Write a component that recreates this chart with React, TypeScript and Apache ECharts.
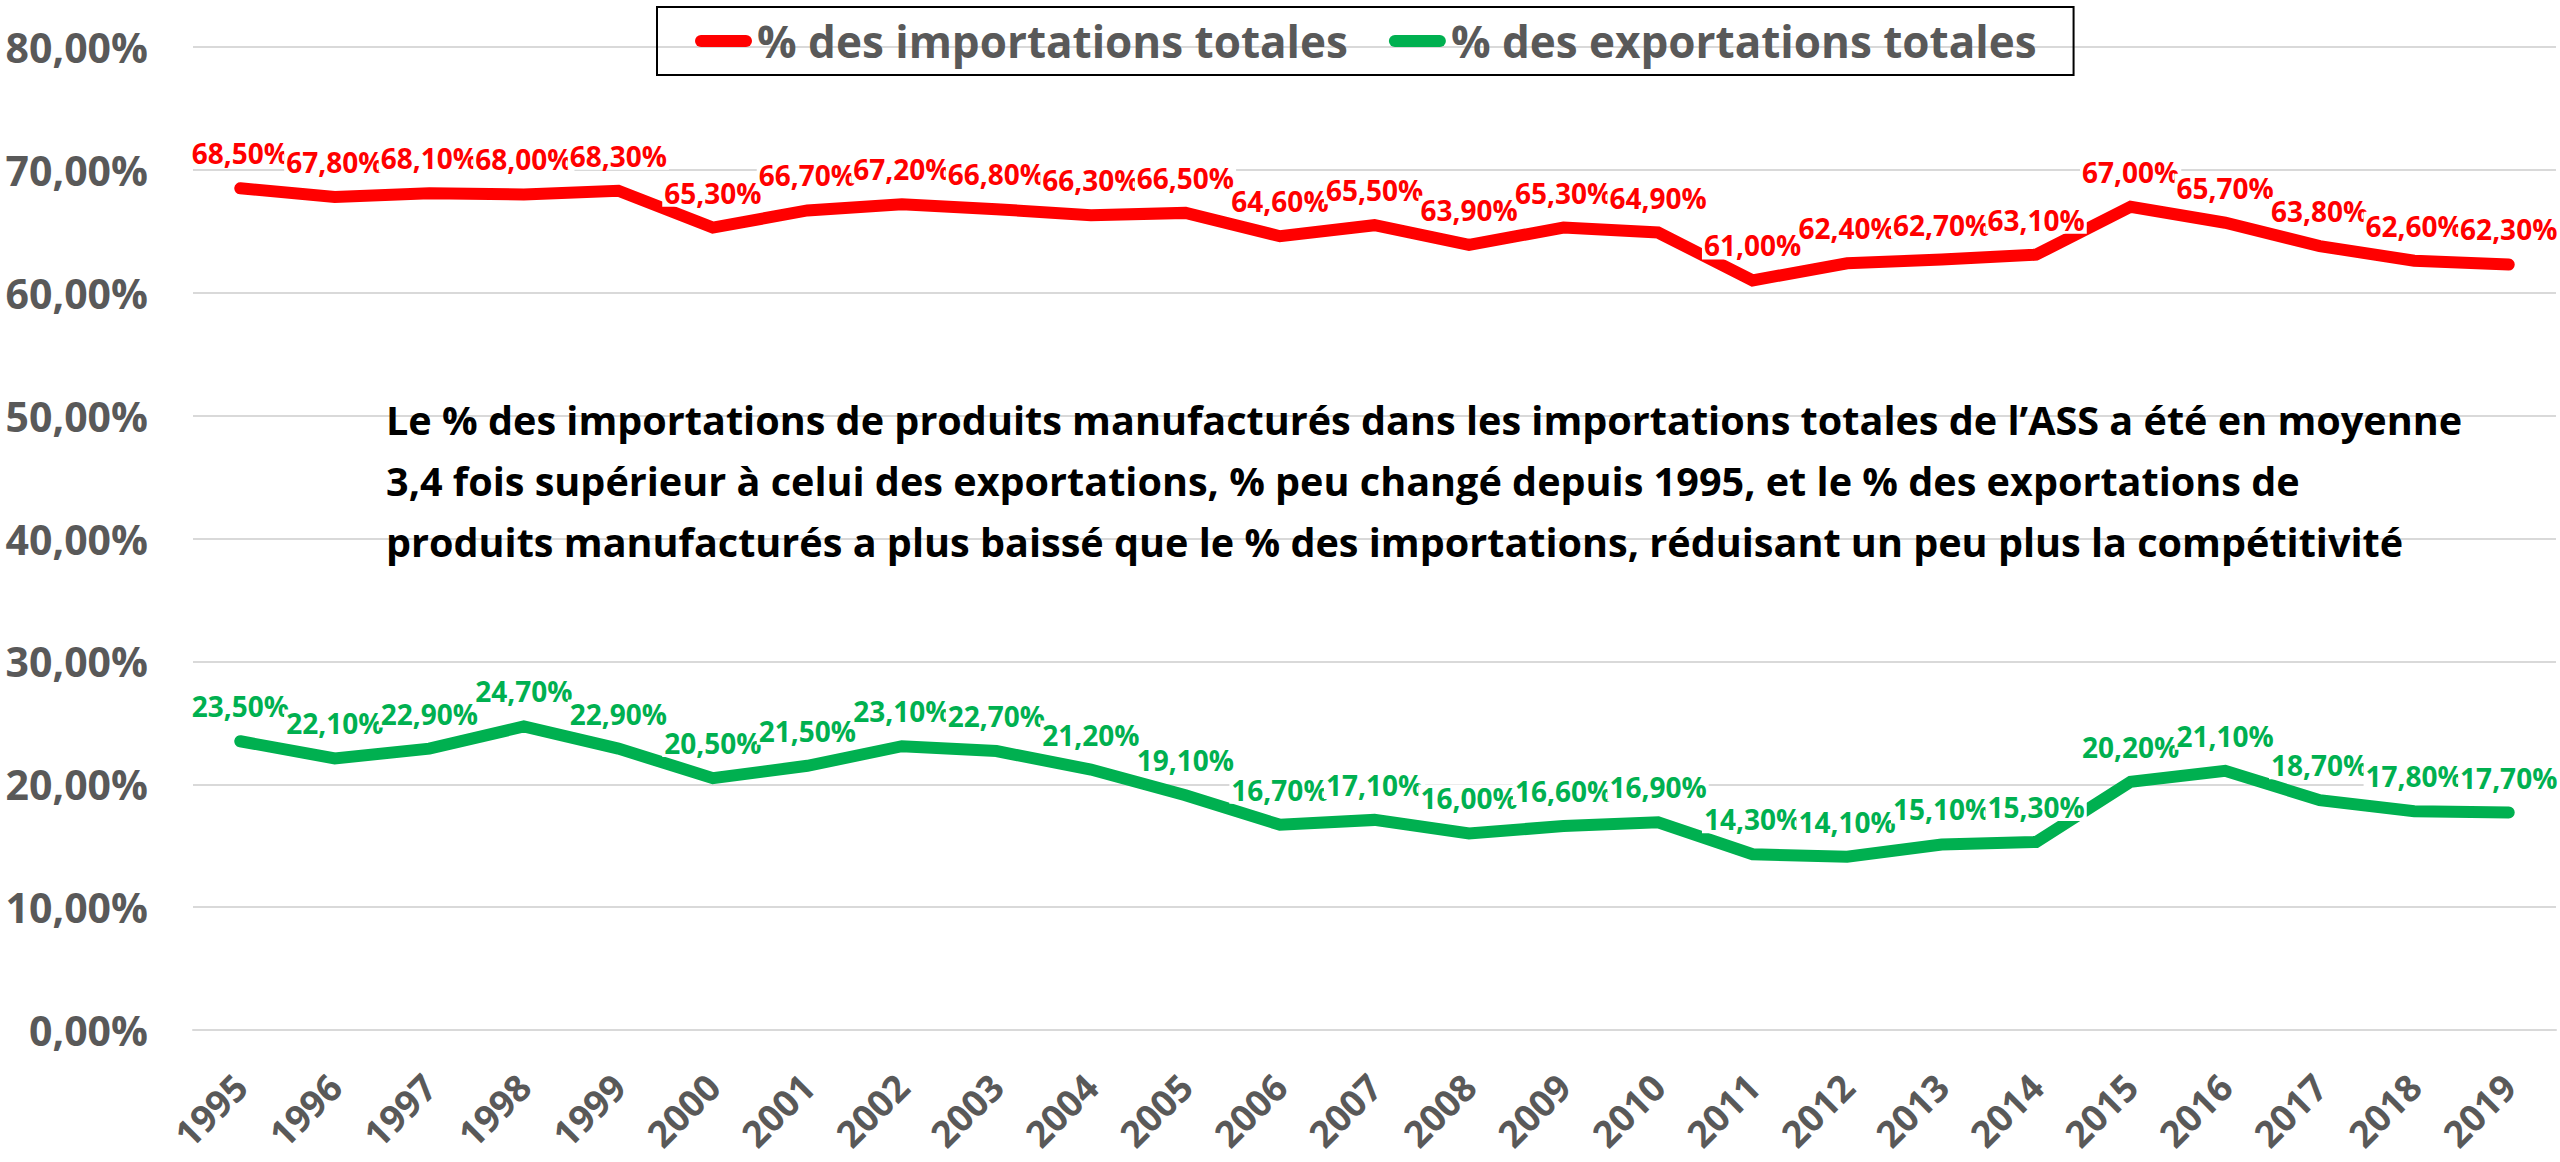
import React, { useEffect, useRef } from 'react';
import * as echarts from 'echarts';

const years = ['1995', '1996', '1997', '1998', '1999', '2000', '2001', '2002', '2003', '2004', '2005', '2006', '2007', '2008', '2009', '2010', '2011', '2012', '2013', '2014', '2015', '2016', '2017', '2018', '2019'];
const importsPct = [68.5, 67.8, 68.1, 68.0, 68.3, 65.3, 66.7, 67.2, 66.8, 66.3, 66.5, 64.6, 65.5, 63.9, 65.3, 64.9, 61.0, 62.4, 62.7, 63.1, 67.0, 65.7, 63.8, 62.6, 62.3];
const exportsPct = [23.5, 22.1, 22.9, 24.7, 22.9, 20.5, 21.5, 23.1, 22.7, 21.2, 19.1, 16.7, 17.1, 16.0, 16.6, 16.9, 14.3, 14.1, 15.1, 15.3, 20.2, 21.1, 18.7, 17.8, 17.7];
const seriesNames = ['% des importations totales', '% des exportations totales'];
const seriesColors = ['#FF0000', '#00B050'];
const yMin = 0;
const yMax = 80;
const yStep = 10;
const annotationLines = [
  'Le % des importations de produits manufacturés dans les importations totales de l’ASS a été en moyenne',
  '3,4 fois supérieur à celui des exportations, % peu changé depuis 1995, et le % des exportations de',
  'produits manufacturés a plus baissé que le % des importations, réduisant un peu plus la compétitivité',
];

const FONT = '"Open Sans", "Noto Sans", sans-serif';
const fmt = (v: number) => v.toFixed(2).replace('.', ',') + '%';
const pill = 'path://M6,0 L51,0 A6,6 0 0 1 51,12 L6,12 A6,6 0 0 1 6,0 Z';

export default function App() {
  const ref = useRef<HTMLDivElement>(null);
  useEffect(() => {
    const chart = echarts.init(ref.current!, null, { renderer: 'svg' });
    const mkSeries = (i: number, data: number[]) => ({
      name: seriesNames[i],
      type: 'line',
      data,
      symbol: 'circle',
      symbolSize: 10,
      showSymbol: true,
      lineStyle: { color: seriesColors[i], width: 12, cap: 'round', join: 'miter' },
      itemStyle: { color: seriesColors[i] },
      label: {
        show: true,
        position: 'top',
        distance: 16,
        formatter: (p: any) => fmt(p.value),
        fontFamily: FONT,
        fontSize: 28,
        fontWeight: 'bold',
        color: seriesColors[i],
        backgroundColor: '#ffffff',
        padding: [0, 2],
      },
      emphasis: { disabled: true },
    });
    chart.setOption({
      animation: false,
      backgroundColor: '#ffffff',
      textStyle: { fontFamily: FONT },
      grid: { left: 193, right: 4, top: 47, bottom: 132, containLabel: false },
      legend: {
        left: 657,
        top: 7,
        orient: 'horizontal',
        itemGap: 41,
        itemWidth: 57,
        itemHeight: 12,
        padding: [12, 37, 12, 38],
        borderColor: '#000000',
        borderWidth: 2,
        textStyle: { fontFamily: FONT, fontSize: 44, fontWeight: 'bold', color: '#595959' },
        data: seriesNames.map((n) => ({ name: n, icon: pill })),
      },
      xAxis: {
        type: 'category',
        data: years,
        boundaryGap: true,
        axisLine: { show: true, lineStyle: { color: '#d9d9d9', width: 2 } },
        axisTick: { show: false },
        axisLabel: {
          interval: 0,
          rotate: 45,
          margin: 50,
          fontFamily: FONT,
          fontSize: 37,
          fontWeight: 'bold',
          color: '#595959',
        },
      },
      yAxis: {
        type: 'value',
        min: yMin,
        max: yMax,
        interval: yStep,
        axisLine: { show: false },
        axisTick: { show: false },
        axisLabel: {
          formatter: (v: number) => fmt(v),
          fontFamily: FONT,
          fontSize: 41,
          fontWeight: 'bold',
          color: '#595959',
          margin: 45,
        },
        splitLine: { lineStyle: { color: '#d9d9d9', width: 2 } },
      },
      graphic: [
        {
          type: 'text',
          left: 386,
          top: 389,
          z: 10,
          style: {
            text: annotationLines.join('\n'),
            fontFamily: FONT,
            fontSize: 39.6,
            fontWeight: 'bold',
            fill: '#000000',
            lineHeight: 61,
          },
        },
      ],
      series: [mkSeries(0, importsPct), mkSeries(1, exportsPct)],
    });
    return () => chart.dispose();
  }, []);
  return (
    <div
      ref={ref}
      style={{ position: 'fixed', left: 0, top: 0, width: 2560, height: 1162, background: '#ffffff' }}
    />
  );
}
